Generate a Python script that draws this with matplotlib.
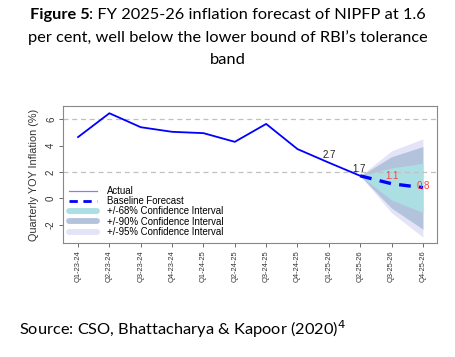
import matplotlib
matplotlib.use("Agg")
import matplotlib.pyplot as plt
from matplotlib.lines import Line2D

quarters = ["Q1-23-24", "Q2-23-24", "Q3-23-24", "Q4-23-24", "Q1-24-25", "Q2-24-25",
            "Q3-24-25", "Q4-24-25", "Q1-25-26", "Q2-25-26", "Q3-25-26", "Q4-25-26"]
actual = [4.64, 6.45, 5.39, 5.04, 4.94, 4.28, 5.64, 3.73, 2.7, 1.7]
forecast = [1.7, 1.1, 0.8]
ci68_hi = [1.7, 2.3, 2.65]
ci68_lo = [1.7, -0.13, -1.09]
ci90_hi = [1.7, 3.15, 3.92]
ci90_lo = [1.7, -0.75, -2.35]
ci95_hi = [1.7, 3.6, 4.5]
ci95_lo = [1.7, -1.1, -2.95]
ref_lines = [6, 2]
labels_black = {8: "2.7", 9: "1.7"}
labels_red = {10: "1.1", 11: "0.8"}

fig = plt.figure(figsize=(4.56, 3.57), dpi=100)
ax = fig.add_axes([63/456, 1-243/357, (437-63)/456, (243-106)/357])

xa = list(range(len(actual)))
xf = list(range(len(actual)-1, len(quarters)))

c68 = "#ABDFE3"
c90 = "#B3C3DC"
c95 = "#E4E4F8"
ax.fill_between(xf, ci95_lo, ci95_hi, color=c95, lw=0)
ax.fill_between(xf, ci90_lo, ci90_hi, color=c90, lw=0)
ax.fill_between(xf, ci68_lo, ci68_hi, color=c68, lw=0)
for r in ref_lines:
    ax.axhline(r, color="#C0C0C0", ls=(0, (4, 3)), lw=0.9, zorder=1)
ax.plot(xa, actual, color="#0000FF", lw=1.3, zorder=3)
ax.plot(xf, forecast, color="#0000FF", lw=2.4, ls=(0, (3.5, 2.5)), zorder=3)

lab_font = dict(fontsize=7, family="Liberation Sans")
ax.text(8 - 0.2, actual[8] + 0.18, labels_black[8], color="#222222", ha="left",
        va="bottom", **lab_font)
ax.text(9 - 0.05, actual[9] + 0.12, labels_black[9], color="#222222", ha="center",
        va="bottom", **lab_font)
ax.text(10, forecast[1] + 0.2, labels_red[10], color="#FF4040", ha="center",
        va="bottom", **lab_font)
ax.text(11, forecast[2] + 0.15, labels_red[11], color="#FF4040", ha="center",
        va="center", **lab_font)

ax.set_xlim(-0.48, 11.45)
ax.set_ylim(-3.4, 7.0)
ax.set_xticks(range(len(quarters)))
ax.set_xticklabels(quarters, rotation=90, fontsize=5.4, family="Liberation Sans",
                   color="#333333")
ax.set_yticks([-2, 0, 2, 4, 6])
ax.set_yticklabels(["-2", "0", "2", "4", "6"], rotation=90, fontsize=7,
                   family="Liberation Sans", va="center", color="#333333")
ax.set_ylabel("Quarterly YOY Inflation (%)", fontsize=7.8, family="Liberation Sans",
              color="#333333", labelpad=5)
for sp in ax.spines.values():
    sp.set_color("#888888")
    sp.set_linewidth(0.8)
ax.tick_params(length=3, width=0.6, color="#555555", pad=2)

handles = [
    Line2D([], [], color="#8080FF", lw=0.9),
    Line2D([], [], color="#0000FF", lw=2.0, ls=(0, (3, 2))),
    Line2D([], [], color=c68, lw=4.2, solid_capstyle="round"),
    Line2D([], [], color=c90, lw=4.2, solid_capstyle="round"),
    Line2D([], [], color=c95, lw=4.2, solid_capstyle="round"),
]
names = ["Actual", "Baseline Forecast", "+/-68% Confidence Interval",
         "+/-90% Confidence Interval", "+/-95% Confidence Interval"]
ax.legend(handles, names, loc="upper left", bbox_to_anchor=(0.005, 0.445),
          frameon=False, prop={"family": "Liberation Sans", "size": 6.9},
          handlelength=3.0, handletextpad=1.0, labelspacing=0.03, borderaxespad=0)

# Title in two fonts
tfont = "Lato"
tsize = 11.8
renderer = fig.canvas.get_renderer()
y1 = 1 - 15/357
t_b = fig.text(0, y1, "Figure 5", fontsize=tsize, fontweight="bold", family=tfont,
               va="center", ha="left")
t_r = fig.text(0, y1, ": FY 2025-26 inflation forecast of NIPFP at 1.6", fontsize=tsize,
               family=tfont, va="center", ha="left")
wb = t_b.get_window_extent(renderer).width
wr = t_r.get_window_extent(renderer).width
x0 = (456 - wb - wr) / 2 / 456
t_b.set_x(x0)
t_r.set_x(x0 + wb / 456)
fig.text(0.5, 1 - 38/357, "per cent, well below the lower bound of RBI\u2019s tolerance",
         fontsize=tsize, family=tfont, ha="center", va="center")
fig.text(0.5, 1 - 60/357, "band", fontsize=tsize, family=tfont, ha="center", va="center")

fig.text(19/456, 1 - 329/357, "Source: CSO, Bhattacharya & Kapoor (2020)$^{4}$",
         fontsize=tsize, family=tfont, ha="left", va="center")

fig.savefig("out.png", dpi=100)
